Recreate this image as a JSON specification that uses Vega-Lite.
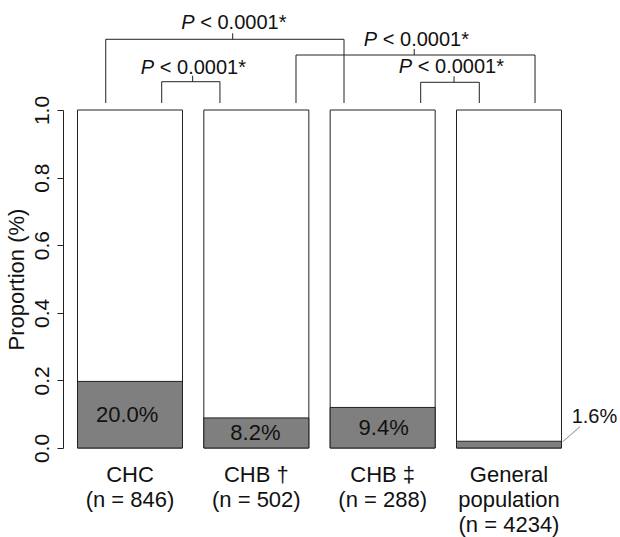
{
  "$schema": "https://vega.github.io/schema/vega-lite/v6.json",
  "width": 513,
  "height": 338,
  "autosize": {"type": "none"},
  "padding": {"left": 63, "top": 110, "right": 44, "bottom": 89},
  "background": "white",
  "config": {"view": {"stroke": null}, "font": "Liberation Sans", "text": {"font": "Liberation Sans", "color": "#111"}},
  "datasets": {
    "groups": [
      {"label": "CHC\n(n = 846)", "proportion": 0.197, "text": "20.0%"},
      {"label": "CHB †\n(n = 502)", "proportion": 0.089, "text": "8.2%"},
      {"label": "CHB ‡\n(n = 288)", "proportion": 0.12, "text": "9.4%"},
      {"label": "General\npopulation\n(n = 4234)", "proportion": 0.02, "text": "1.6%"}
    ],
    "brackets": [
      {"from": 0.808, "to": 2.694, "y": 1.2092, "tick": 1.813, "labelX": 1.841, "labelY": 1.2396, "stat": "P", "rel": "< 0.0001*"},
      {"from": 2.314, "to": 4.206, "y": 1.1627, "tick": 3.25, "labelX": 3.286, "labelY": 1.1908, "stat": "P", "rel": "< 0.0001*"},
      {"from": 1.251, "to": 1.712, "y": 1.0837, "tick": 1.496, "labelX": 1.521, "labelY": 1.1065, "stat": "P", "rel": "< 0.0001*"},
      {"from": 3.301, "to": 3.765, "y": 1.082, "tick": 3.565, "labelX": 3.563, "labelY": 1.1095, "stat": "P", "rel": "< 0.0001*"}
    ],
    "callout": [
      {"x": 4.425, "y": 0.0186, "x2": 4.562, "y2": 0.063, "textX": 4.496, "textY": 0.0749, "text": "1.6%"}
    ]
  },
  "layer": [
    {
      "data": {"name": "groups"},
      "layer": [
        {
          "mark": {"type": "bar", "fill": "white", "stroke": "#222", "strokeWidth": 1},
          "encoding": {
            "x": {
              "field": "label", "type": "nominal", "sort": null,
              "scale": {"paddingInner": 0.1689, "paddingOuter": 0.1148},
              "axis": {
                "title": null, "labelAngle": 0, "labelExpr": "split(datum.label, '\\n')",
                "labelFontSize": 22, "labelLineHeight": 25, "labelBaseline": "alphabetic",
                "labelPadding": 33, "ticks": false, "tickSize": 0, "domain": false,
                "labelColor": "#111", "labelLimit": 0, "labelFont": "Liberation Sans"
              }
            },
            "y": {
              "datum": 1, "type": "quantitative",
              "scale": {"domain": [0, 1], "nice": false},
              "axis": {
                "title": "Proportion (%)", "values": [0, 0.2, 0.4, 0.6, 0.8, 1], "format": ".1f",
                "grid": false, "labelAngle": 270, "labelAlign": "center", "labelBaseline": "bottom",
                "labelFontSize": 21, "labelPadding": 5, "labelColor": "#111", "labelFlush": false,
                "tickSize": 6, "tickColor": "#222", "domainColor": "#222",
                "titleFontSize": 22, "titleFontWeight": "normal", "titleColor": "#111",
                "titleAngle": 270, "titleX": -40, "titleY": 169, "titleAlign": "center",
                "titleBaseline": "alphabetic", "labelFont": "Liberation Sans", "titleFont": "Liberation Sans"
              }
            },
            "y2": {"datum": 0}
          }
        },
        {
          "mark": {"type": "bar", "fill": "#7f7f7f", "stroke": "#222", "strokeWidth": 1},
          "encoding": {
            "x": {"field": "label", "type": "nominal", "sort": null},
            "y": {"field": "proportion", "type": "quantitative"},
            "y2": {"datum": 0}
          }
        }
      ]
    },
    {
      "data": {"name": "groups"},
      "transform": [{"filter": "datum.proportion > 0.05"}],
      "mark": {"type": "text", "fontSize": 22, "baseline": "middle", "align": "center", "color": "#111"},
      "encoding": {
        "x": {
          "field": "label", "type": "nominal", "sort": null,
          "scale": {"domain": ["CHC\n(n = 846)", "CHB †\n(n = 502)", "CHB ‡\n(n = 288)", "General\npopulation\n(n = 4234)"], "paddingInner": 0.1689, "paddingOuter": 0.1148},
          "axis": null
        },
        "y": {"field": "proportion", "type": "quantitative", "scale": {"domain": [0, 2], "nice": false}, "axis": null},
        "text": {"field": "text"}
      }
    },
    {
      "layer": [
        {
          "data": {"name": "brackets"},
          "mark": {"type": "rule", "color": "#222", "strokeWidth": 1},
          "encoding": {
            "x": {"field": "from", "type": "quantitative", "scale": {"domain": [0.4697, 4.5304], "nice": false, "zero": false}, "axis": null},
            "x2": {"field": "to"},
            "y": {"field": "y", "type": "quantitative", "scale": {"domain": [0, 1], "nice": false}, "axis": null}
          }
        },
        {
          "data": {"name": "brackets"},
          "mark": {"type": "rule", "color": "#222", "strokeWidth": 1},
          "encoding": {
            "x": {"field": "from", "type": "quantitative"},
            "y": {"field": "y", "type": "quantitative"},
            "y2": {"datum": 1.0207}
          }
        },
        {
          "data": {"name": "brackets"},
          "mark": {"type": "rule", "color": "#222", "strokeWidth": 1},
          "encoding": {
            "x": {"field": "to", "type": "quantitative"},
            "y": {"field": "y", "type": "quantitative"},
            "y2": {"datum": 1.0207}
          }
        },
        {
          "data": {"name": "brackets"},
          "mark": {"type": "rule", "color": "#222", "strokeWidth": 1, "y2Offset": -6},
          "encoding": {
            "x": {"field": "tick", "type": "quantitative"},
            "y": {"field": "y", "type": "quantitative"},
            "y2": {"field": "y"}
          }
        },
        {
          "data": {"name": "brackets"},
          "mark": {"type": "text", "fontSize": 20, "fontStyle": "italic", "align": "left", "baseline": "alphabetic", "dx": -55},
          "encoding": {
            "x": {"field": "labelX", "type": "quantitative"},
            "y": {"field": "labelY", "type": "quantitative"},
            "text": {"field": "stat"}
          }
        },
        {
          "data": {"name": "brackets"},
          "mark": {"type": "text", "fontSize": 20, "align": "left", "baseline": "alphabetic", "dx": -36},
          "encoding": {
            "x": {"field": "labelX", "type": "quantitative"},
            "y": {"field": "labelY", "type": "quantitative"},
            "text": {"field": "rel"}
          }
        },
        {
          "data": {"name": "callout"},
          "mark": {"type": "rule", "color": "#888", "strokeWidth": 1},
          "encoding": {
            "x": {"field": "x", "type": "quantitative"},
            "x2": {"field": "x2"},
            "y": {"field": "y", "type": "quantitative"},
            "y2": {"field": "y2"}
          }
        },
        {
          "data": {"name": "callout"},
          "mark": {"type": "text", "fontSize": 20, "align": "left", "baseline": "alphabetic"},
          "encoding": {
            "x": {"field": "textX", "type": "quantitative"},
            "y": {"field": "textY", "type": "quantitative"},
            "text": {"field": "text"}
          }
        }
      ]
    }
  ],
  "resolve": {"scale": {"x": "independent", "y": "independent"}}
}
